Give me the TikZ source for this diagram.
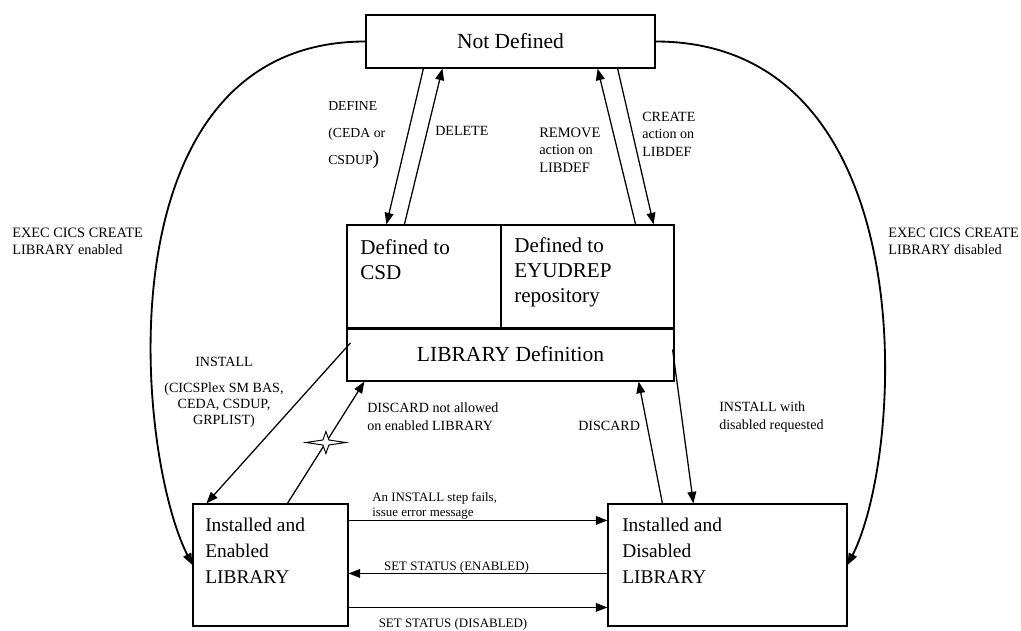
\documentclass[tikz,border=0pt]{standalone}
\usepackage{fontspec}
\setmainfont{Liberation Serif}
\usetikzlibrary{arrows.meta,calc}
\tikzset{
  statebox/.style={draw,line width=0.8pt,inner sep=0pt},
  boxtext/.style={font=\fontsize{15}{17.7}\selectfont,align=left,inner sep=0pt},
  lbl/.style={font=\fontsize{10}{12.4}\selectfont,align=left,inner sep=0pt},
  smalllbl/.style={font=\fontsize{9.2}{10.2}\selectfont,align=left,inner sep=0pt},
  trans/.style={->,line width=0.9pt},
  create/.style={->,line width=1.3pt}
}
\begin{document}
\begin{tikzpicture}[x=0.025cm,y=-0.025cm,>={Triangle[length=2.9mm,width=2.2mm]}]
  \useasboundingbox (0,0) rectangle (1021,631);
  % states
  \node[statebox,minimum width=7.225cm,minimum height=1.325cm,font=\fontsize{15.3}{18}\selectfont] (nd) at (510.5,41.5) {Not Defined};
  \node[statebox,minimum width=3.85cm,minimum height=2.6cm] (csd) at (424,277) {};
  \node[statebox,minimum width=4.325cm,minimum height=2.6cm] (rep) at (587.5,277) {};
  \node[statebox,minimum width=8.175cm,minimum height=1.325cm,font=\fontsize{15.3}{18}\selectfont] (libdef) at (510.5,354.5) {LIBRARY Definition};
  \node[statebox,minimum width=3.875cm,minimum height=3.05cm] (enb) at (270.5,565) {};
  \node[statebox,minimum width=5.975cm,minimum height=3.05cm] (dis) at (727.5,565) {};
  \node[boxtext,anchor=west] (csdtxt) at (360,259.5) {Defined to\\CSD};
  \node[boxtext,anchor=west] (reptxt) at (514,272) {Defined to\\EYUDREP\\repository};
  \node[boxtext,anchor=west,font=\fontsize{13.8}{18.4}\selectfont] (enbtxt) at (205,551) {Installed and\\Enabled\\LIBRARY};
  \node[boxtext,anchor=west,font=\fontsize{13.8}{18.4}\selectfont] (distxt) at (622,551) {Installed and\\Disabled\\LIBRARY};
  % labels
  \node[lbl,anchor=west,font=\fontsize{9.8}{19}\selectfont] (ldefine) at (328,135) {DEFINE\\(CEDA or\\CSDUP{\fontsize{14}{19}\selectfont)}};
  \node[lbl,anchor=west] (ldelete) at (435,131) {DELETE};
  \node[lbl,anchor=west,font=\fontsize{10.3}{12.4}\selectfont] (lremove) at (539,150) {REMOVE\\action on\\LIBDEF};
  \node[lbl,anchor=west] (lcreate) at (642,134) {CREATE\\action on\\LIBDEF};
  \node[lbl,anchor=west,font=\fontsize{10.2}{12.2}\selectfont] (lexecen) at (12,241.5) {EXEC CICS CREATE\\LIBRARY enabled};
  \node[lbl,anchor=west,font=\fontsize{10.2}{12.2}\selectfont] (lexecdis) at (888,241.5) {EXEC CICS CREATE\\LIBRARY disabled};
  \node[lbl] (linstall) at (224,362) {INSTALL};
  \node[lbl,align=center,font=\fontsize{10}{11.3}\selectfont] (linstwho) at (224,405) {(CICSPlex SM BAS,\\CEDA, CSDUP,\\GRPLIST)};
  \node[lbl,anchor=west,font=\fontsize{10}{12.7}\selectfont] (lnotallowed) at (367,417) {DISCARD not allowed\\on enabled LIBRARY};
  \node[lbl,anchor=west] (ldiscard) at (578,426) {DISCARD};
  \node[lbl,anchor=west,font=\fontsize{10}{12.7}\selectfont] (linstdis) at (719,417) {INSTALL with\\disabled requested};
  \node[smalllbl,anchor=west] (lfails) at (372,506) {An INSTALL step fails,\\issue error message};
  \node[smalllbl] (lsetena) at (456.5,567) {SET STATUS (ENABLED)};
  \node[smalllbl] (lsetdis) at (453,624) {SET STATUS (DISABLED)};
  % transitions
  \draw[trans] ($(nd.south west)+(58,0)$) -- ($(csd.north west)+(40,0)$);
  \draw[trans] ($(csd.north west)+(58,0)$) -- ($(nd.south west)+(77,0)$);
  \draw[trans] ($(rep.north east)+(-39,0)$) -- ($(nd.south east)+(-58,0)$);
  \draw[trans] ($(nd.south east)+(-38,0)$) -- ($(rep.north east)+(-21,0)$);
  \draw[trans] ($(libdef.west)+(4,-11.5)$) -- ($(enb.north west)+(14,0)$);
  \draw[trans] ($(enb.north west)+(95,0)$) -- coordinate[pos=0.5] (cross) ($(libdef.south west)+(18,0)$);
  \draw[trans] ($(dis.north west)+(55,0)$) -- ($(libdef.south east)+(-36,0)$);
  \draw[trans] ($(libdef.east)+(-2,-5)$) -- ($(dis.north west)+(86,0)$);
  \draw[trans] ($(enb.north east)+(0,17)$) -- ($(dis.north west)+(0,17)$);
  \draw[trans] ($(dis.north west)+(0,70)$) -- ($(enb.north east)+(0,70)$);
  \draw[trans] ($(enb.north east)+(0,104)$) -- ($(dis.north west)+(0,104)$);
  \draw[create] (nd.west) .. controls +(-265,0) and +(-58,-115) .. (enb.west);
  \draw[create] (nd.east) .. controls +(270,0) and +(58,-115) .. (dis.east);
  % not allowed mark
  \draw[fill=white,line width=0.7pt,shift={(cross)}] (-20,0) -- (-3,-2.5) -- (0,-11) -- (3,-2.5) -- (20,0) -- (3,2.5) -- (0,11) -- (-3,2.5) -- cycle;
\end{tikzpicture}
\end{document}
